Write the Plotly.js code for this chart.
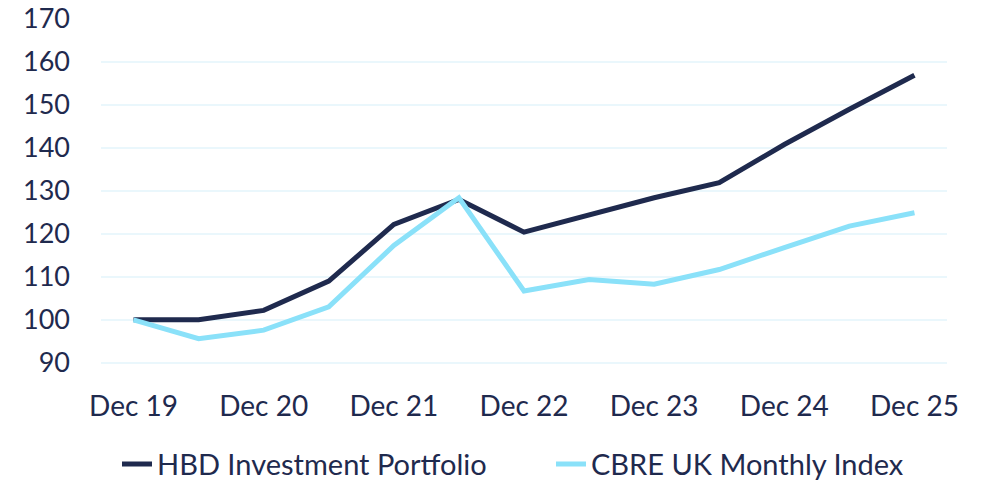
<!DOCTYPE html>
<html>
<head>
<meta charset="utf-8">
<script src="https://cdn.plot.ly/plotly-3.0.1.min.js"></script>
<style>html,body{margin:0;padding:0;background:#fff;}#chart{width:982px;height:483px;}</style>
</head>
<body>
<div id="chart"></div>
<script>
const periods = ["Dec 19","Jun 20","Dec 20","Jun 21","Dec 21","Jun 22","Dec 22","Jun 23","Dec 23","Jun 24","Dec 24","Jun 25","Dec 25"];
const hbdValues = [100, 100, 102.2, 109.0, 122.2, 128.0, 120.4, 124.4, 128.4, 131.9, 140.8, 149.0, 156.9];
const cbreValues = [100, 95.6, 97.6, 103.0, 117.3, 128.4, 106.7, 109.4, 108.3, 111.7, 116.8, 121.8, 124.9];
const xTickLabels = ["Dec 19","Dec 20","Dec 21","Dec 22","Dec 23","Dec 24","Dec 25"];
const yTicks = [90,100,110,120,130,140,150,160,170];
const seriesNames = ["HBD Investment Portfolio","CBRE UK Monthly Index"];

const navy = "#1f2a4e";
const light = "#8ae1f9";
const fontFam = "Lato, 'Noto Sans', sans-serif";

const traces = [
  {x: periods, y: hbdValues, name: seriesNames[0], type: "scatter", mode: "lines",
   line: {color: navy, width: 5}, legend: "legend"},
  {x: periods, y: cbreValues, name: seriesNames[1], type: "scatter", mode: "lines",
   line: {color: light, width: 5}, legend: "legend2"}
];

const legendBase = {orientation: "h", xref: "container", yref: "container",
  xanchor: "left", y: 0.039, yanchor: "middle",
  font: {family: fontFam, size: 29, color: navy}, itemwidth: 30,
  bgcolor: "rgba(0,0,0,0)", borderwidth: 0};

const layout = {
  width: 982, height: 483,
  margin: {l: 101, r: 35, t: 19, b: 103, autoexpand: false},
  paper_bgcolor: "#fff", plot_bgcolor: "#fff",
  font: {family: fontFam, color: navy, size: 28},
  showlegend: true,
  legend: Object.assign({}, legendBase, {x: 117 / 982}),
  legend2: Object.assign({}, legendBase, {x: 551 / 982}),
  xaxis: {type: "category", categoryorder: "array", categoryarray: periods,
          range: [-0.5, 12.5], tickvals: xTickLabels, ticktext: xTickLabels,
          showgrid: false, zeroline: false, showline: false, ticks: "",
          ticklabelstandoff: 7, tickfont: {family: fontFam, size: 28, color: navy}},
  yaxis: {range: [86, 170], tickvals: yTicks, showgrid: true, gridcolor: "#eaf7fc", gridwidth: 1.5,
          zeroline: false, showline: false, ticks: "", ticklabelstandoff: 30,
          tickfont: {family: fontFam, size: 27, color: navy}}
};

Plotly.newPlot("chart", traces, layout, {displayModeBar: false, staticPlot: true});
</script>
</body>
</html>
